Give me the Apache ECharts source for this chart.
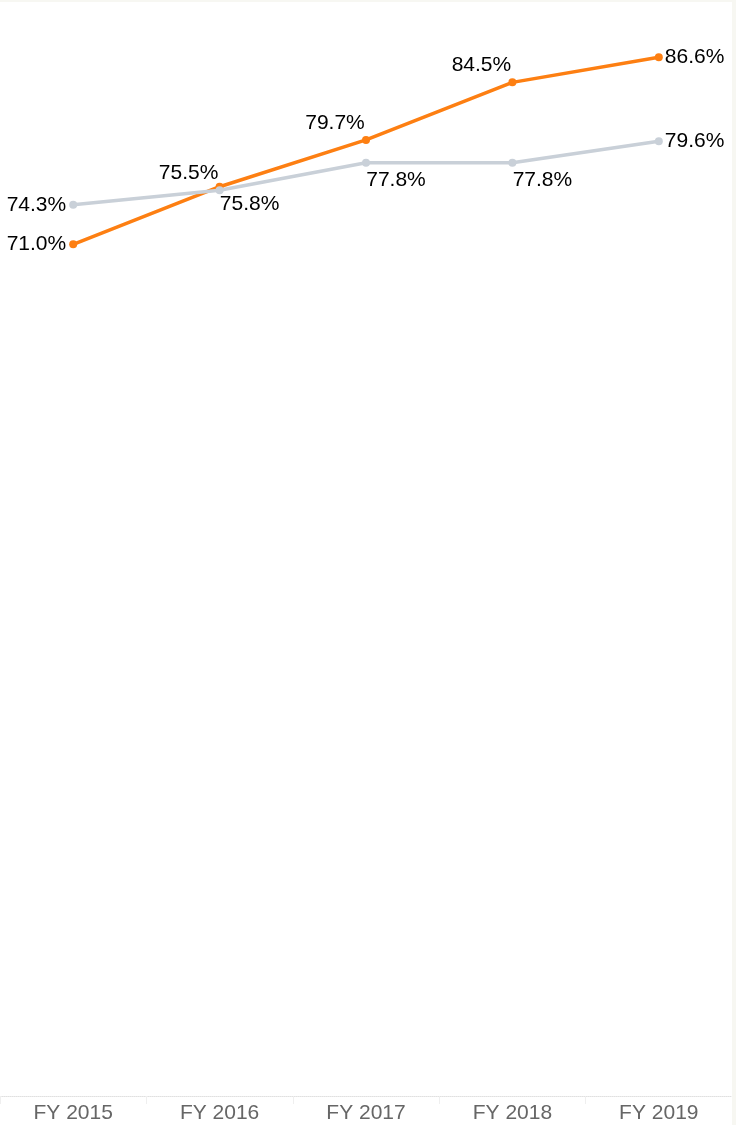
<!DOCTYPE html>
<html>
<head>
<meta charset="utf-8">
<style>
html,body{margin:0;padding:0;background:#fff;}
#frame{position:absolute;left:0;top:0;width:736px;height:1125px;background:#f7f7f2;}
#chart{position:absolute;left:0;top:2px;width:732px;height:1123px;background:#fff;}
</style>
<script src="https://cdn.jsdelivr.net/npm/echarts@6/dist/echarts.min.js"></script>
</head>
<body>
<div id="frame"></div>
<div id="chart"></div>
<script>
const categories = ['FY 2015', 'FY 2016', 'FY 2017', 'FY 2018', 'FY 2019'];
const orangeValues = [71.0, 75.8, 79.7, 84.5, 86.6];
const greyValues = [74.3, 75.5, 77.8, 77.8, 79.6];
const orangeLabelPos = ['left', 'bottomRight', 'topLeft', 'topLeft', 'right'];
const greyLabelPos = ['left', 'topLeft', 'bottomRight', 'bottomRight', 'right'];

const chart = echarts.init(document.getElementById('chart'));
const fontFamily = '"Liberation Sans", Arial, sans-serif';

function labelFor(pos) {
  const base = { show: true, color: '#000', fontSize: 21, fontFamily: fontFamily,
    formatter: p => p.value.toFixed(1) + '%' };
  if (pos === 'left') return Object.assign(base, { position: 'left', distance: 3 });
  if (pos === 'right') return Object.assign(base, { position: 'right', distance: 2 });
  if (pos === 'topLeft') return Object.assign(base, { position: [-27, -13], align: 'center', verticalAlign: 'middle' });
  return Object.assign(base, { position: [34, 21], align: 'center', verticalAlign: 'middle' });
}

function buildData(vals, pos) {
  return vals.map((v, i) => ({ value: v, label: labelFor(pos[i]) }));
}

chart.setOption({
  animation: false,
  grid: { left: 0, right: 0, top: 0, bottom: 29, containLabel: false },
  xAxis: {
    type: 'category',
    data: categories,
    boundaryGap: true,
    axisLine: { show: true, lineStyle: { color: '#e0e0e0', type: 'dotted', width: 1 } },
    axisTick: { show: true, length: 8, lineStyle: { color: '#efefef' } },
    axisLabel: { color: '#666', fontSize: 21, fontFamily: fontFamily, margin: 7 }
  },
  yAxis: {
    type: 'value',
    min: 0,
    max: 91.2,
    show: false,
    splitLine: { show: false }
  },
  series: [
    {
      name: 'Orange',
      type: 'line',
      data: buildData(orangeValues, orangeLabelPos),
      symbol: 'circle',
      symbolSize: 8,
      z: 2,
      lineStyle: { color: '#fd7f12', width: 3.5 },
      itemStyle: { color: '#fd7f12' }
    },
    {
      name: 'Grey',
      type: 'line',
      data: buildData(greyValues, greyLabelPos),
      symbol: 'circle',
      symbolSize: 8,
      z: 3,
      lineStyle: { color: '#c9d0d8', width: 3.5 },
      itemStyle: { color: '#c9d0d8' }
    }
  ]
});
</script>
</body>
</html>
